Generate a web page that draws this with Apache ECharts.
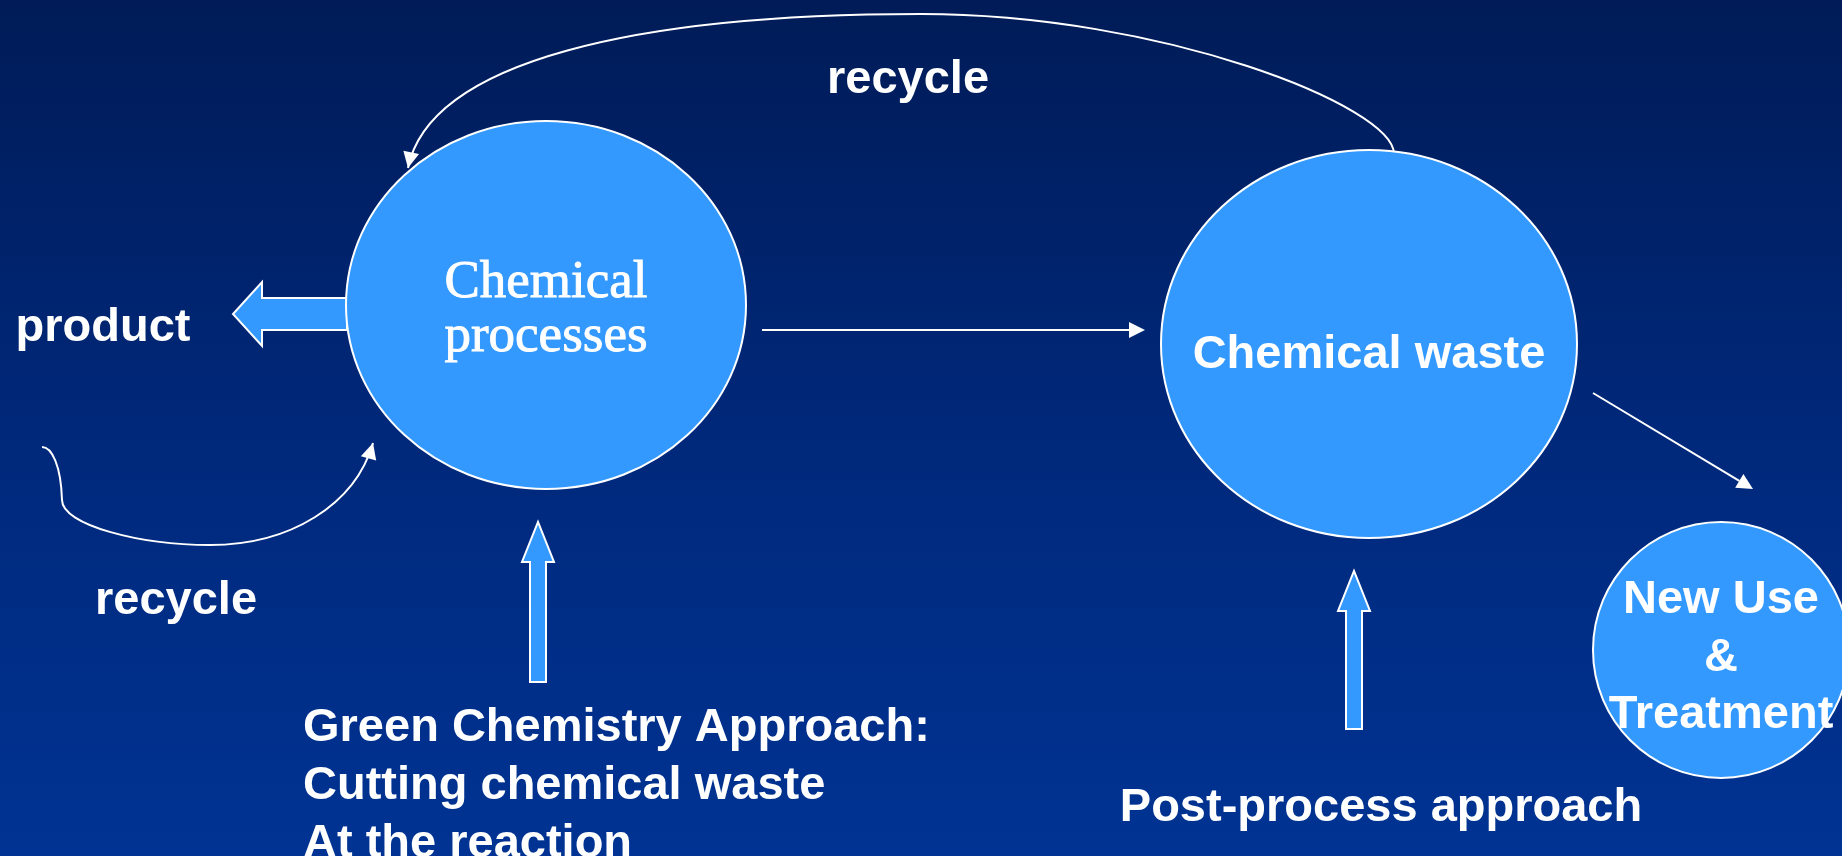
<!DOCTYPE html>
<html><head><meta charset="utf-8">
<script src="https://cdn.jsdelivr.net/npm/echarts@6/dist/echarts.min.js"></script>
<style>html,body{margin:0;padding:0;overflow:hidden;background:#00246e}#c{width:1842px;height:856px}</style>
</head><body><div id="c"></div>
<script>
// ---- Diagram data (slide units: x to the right, y downward) ----
const nodeNames = ['Chemical\nprocesses', 'Chemical waste', 'New Use\n&\nTreatment'];
const nodeX = [546, 1369, 1721];
const nodeY = [305, 344, 650];
const nodeRX = [200, 208, 128];
const nodeRY = [184, 194, 128];

const labelTexts = ['product', 'recycle', 'recycle',
  'Green Chemistry Approach:\nCutting chemical waste\nAt the reaction', 'Post-process approach'];
const labelX = [103, 908, 176, 303, 1381];
const labelY = [328, 80, 601, 786, 808];

// block (fat) arrows: tail -> tip
const blockTail = [[347, 314], [538, 682], [1354, 729]];
const blockTip  = [[233, 314], [538, 522], [1354, 571]];

// thin straight arrows: start -> tip
const lineStart = [[762, 330], [1593, 393]];
const lineTip   = [[1145, 330], [1753, 489]];

// curved recycle arrows: cubic bezier chains (start, c1, c2, end, c1, c2, end ...)
const curveTop  = [[1394, 154], [1394, 106], [1160, 14], [921, 14], [640, 14], [430, 60], [408, 168]];
const curveLeft = [[42, 447], [52, 447], [61, 466], [62, 500], [62, 525], [140, 545], [210, 545], [290, 545], [355, 505], [373, 443]];
const curves = [curveTop, curveLeft];

// ---- styles ----
const FILL = '#3399ff';
const WHITE = '#ffffff';
const SANS = '"Liberation Sans", Arial, sans-serif';
const SERIF = '"Liberation Serif", "Times New Roman", serif';

function norm(a, b) {
  const dx = b[0] - a[0], dy = b[1] - a[1];
  const l = Math.sqrt(dx * dx + dy * dy) || 1;
  return [dx / l, dy / l];
}
function headPts(tip, d, len, hw) {
  const bx = tip[0] - d[0] * len, by = tip[1] - d[1] * len;
  const px = -d[1], py = d[0];
  return [[tip[0], tip[1]], [bx + px * hw, by + py * hw], [bx - px * hw, by - py * hw]];
}

const chart = echarts.init(document.getElementById('c'), null, {renderer: 'canvas'});
const option = {
  animation: false,
  backgroundColor: {
    type: 'linear', x: 0, y: 0, x2: 0, y2: 1,
    colorStops: [{offset: 0, color: '#001b57'}, {offset: 0.5, color: '#00287a'}, {offset: 1, color: '#003393'}]
  },
  grid: {left: 0, right: 0, top: 0, bottom: 0, containLabel: false},
  xAxis: {type: 'value', min: 0, max: 1842, show: false},
  yAxis: {type: 'value', min: 0, max: 856, inverse: true, show: false},
  series: [
    {
      name: 'curves', type: 'custom', coordinateSystem: 'cartesian2d', clip: false, z: 2,
      data: curves.map(c => c[0]),
      renderItem: function (params, api) {
        const pts = curves[params.dataIndex].map(p => api.coord(p));
        let d = 'M' + pts[0][0] + ' ' + pts[0][1];
        for (let i = 1; i + 2 < pts.length; i += 3) {
          d += ' C' + pts[i][0] + ' ' + pts[i][1] + ' ' + pts[i + 1][0] + ' ' + pts[i + 1][1] + ' ' + pts[i + 2][0] + ' ' + pts[i + 2][1];
        }
        const n = pts.length;
        const dir = norm(pts[n - 2], pts[n - 1]);
        return {
          type: 'group', children: [
            {type: 'path', shape: {pathData: d}, style: {fill: null, stroke: WHITE, lineWidth: 2}},
            {type: 'polygon', shape: {points: headPts(pts[n - 1], dir, 16, 8)}, style: {fill: WHITE}}
          ]
        };
      }
    },
    {
      name: 'thinArrows', type: 'custom', coordinateSystem: 'cartesian2d', clip: false, z: 2,
      data: lineStart,
      renderItem: function (params, api) {
        const a = api.coord(lineStart[params.dataIndex]);
        const b = api.coord(lineTip[params.dataIndex]);
        const dir = norm(a, b);
        const len = 16;
        return {
          type: 'group', children: [
            {type: 'line', shape: {x1: a[0], y1: a[1], x2: b[0] - dir[0] * len, y2: b[1] - dir[1] * len}, style: {stroke: WHITE, lineWidth: 2}},
            {type: 'polygon', shape: {points: headPts(b, dir, len, 8)}, style: {fill: WHITE}}
          ]
        };
      }
    },
    {
      name: 'blockArrows', type: 'custom', coordinateSystem: 'cartesian2d', clip: false, z: 2,
      data: blockTail,
      renderItem: function (params, api) {
        const t = api.coord(blockTail[params.dataIndex]);
        const h = api.coord(blockTip[params.dataIndex]);
        const d = norm(t, h);
        const px = -d[1], py = d[0];
        const horiz = Math.abs(d[0]) > Math.abs(d[1]);
        const w = 16 * (horiz ? 1 : 0.5), hw = 32 * (horiz ? 1 : 0.5), L = horiz ? 29 : 40;
        const bx = h[0] - d[0] * L, by = h[1] - d[1] * L;
        const pts = [
          [t[0] + px * w, t[1] + py * w], [bx + px * w, by + py * w], [bx + px * hw, by + py * hw],
          [h[0], h[1]],
          [bx - px * hw, by - py * hw], [bx - px * w, by - py * w], [t[0] - px * w, t[1] - py * w]
        ];
        return {type: 'polygon', shape: {points: pts}, style: {fill: FILL, stroke: WHITE, lineWidth: 2, lineJoin: 'miter'}};
      }
    },
    {
      name: 'nodes', type: 'custom', coordinateSystem: 'cartesian2d', clip: false, z: 3,
      data: nodeX.map((x, i) => [x, nodeY[i]]),
      renderItem: function (params, api) {
        const i = params.dataIndex;
        const c = api.coord([nodeX[i], nodeY[i]]);
        const s = api.size([nodeRX[i], nodeRY[i]]);
        const serif = i === 0;
        const dy = serif ? 5 : (i === 1 ? 11 : 8);
        const ts = {
          text: nodeNames[i], fill: WHITE, align: 'center', verticalAlign: 'middle',
          fontFamily: serif ? SERIF : SANS, fontWeight: serif ? 'normal' : 'bold',
          fontSize: serif ? 53 : 47, lineHeight: serif ? 54 : 57.5
        };
        if (serif) { ts.stroke = WHITE; ts.lineWidth = 0.9; }
        return {
          type: 'group', children: [
            {type: 'ellipse', shape: {cx: c[0], cy: c[1], rx: s[0], ry: s[1]}, style: {fill: FILL, stroke: WHITE, lineWidth: 2}},
            {type: 'text', x: c[0], y: c[1] + dy, style: ts}
          ]
        };
      }
    },
    {
      name: 'labels', type: 'custom', coordinateSystem: 'cartesian2d', clip: false, z: 4,
      data: labelX.map((x, i) => [x, labelY[i]]),
      renderItem: function (params, api) {
        const i = params.dataIndex;
        const c = api.coord([labelX[i], labelY[i]]);
        return {type: 'text', x: c[0], y: c[1], style: {
          text: labelTexts[i], fill: WHITE, align: i === 3 ? 'left' : 'center', verticalAlign: 'middle',
          fontFamily: SANS, fontWeight: 'bold', fontSize: 47, lineHeight: 58
        }};
      }
    }
  ]
};
chart.setOption(option);
</script>
</body></html>
